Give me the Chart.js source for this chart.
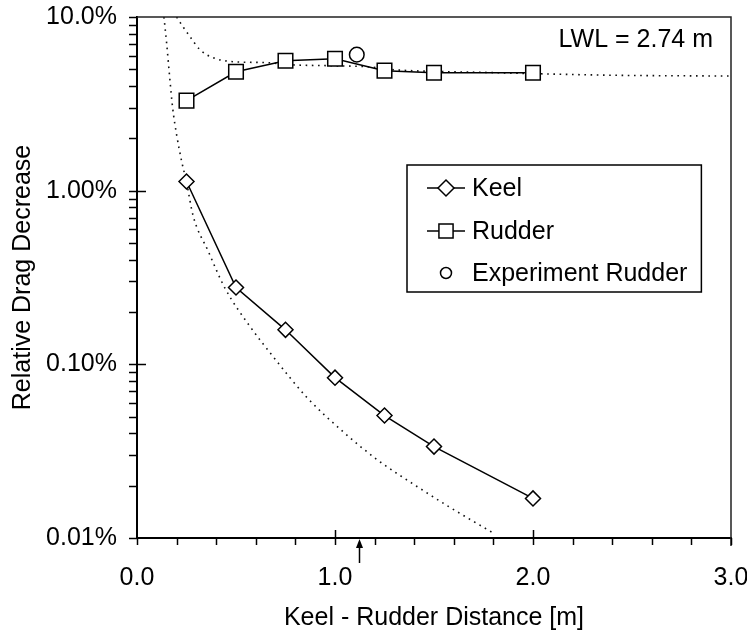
<!DOCTYPE html>
<html>
<head>
<meta charset="utf-8">
<script src="https://cdn.jsdelivr.net/npm/chart.js@4.4.1/dist/chart.umd.min.js"></script>
<style>
  html, body { margin: 0; padding: 0; background: #fff; }
  canvas { display: block; }
</style>
</head>
<body>
<canvas id="chart" width="747" height="634"></canvas>
<script>
// Measured points (keel - rudder distance in m, drag decrease in %)
const distances = [0.25, 0.5, 0.75, 1.0, 1.25, 1.5, 2.0];
const keelValues = [1.13, 0.277, 0.158, 0.0838, 0.0507, 0.0336, 0.0169];
const rudderValues = [3.30, 4.84, 5.60, 5.75, 4.91, 4.78, 4.78];

const experimentX = [1.11];
const experimentY = [6.07];

// Dotted reference curves
const keelCurveX = [0.136, 0.150, 0.165, 0.180, 0.200, 0.227, 0.250, 0.283, 0.359, 0.444, 0.571, 0.687, 0.859, 1.04, 1.212, 1.414, 1.581, 1.798];
const keelCurveY = [10, 7.0, 4.5, 3.0, 2.1, 1.45, 1.12, 0.72, 0.45, 0.275, 0.165, 0.111, 0.0643, 0.041, 0.0283, 0.0198, 0.0150, 0.0107];
const rudderCurveX = [0.20, 0.235, 0.268, 0.318, 0.384, 0.485, 0.657, 0.773, 0.99, 1.16, 1.30, 1.50, 1.75, 2.0, 2.4, 3.0];
const rudderCurveY = [10, 8.7, 7.7, 6.48, 5.83, 5.53, 5.46, 5.31, 5.24, 5.17, 4.97, 4.86, 4.80, 4.72, 4.62, 4.57];

// Axis ticks
const xTicks = [0, 1, 2, 3];
const xTickLabels = ['0.0', '1.0', '2.0', '3.0'];
const yTicks = [0.01, 0.1, 1, 10];
const yTickLabels = ['0.01%', '0.10%', '1.00%', '10.0%'];

const markerX = 1.12;           // arrow under the x axis
const noteText = 'LWL = 2.74 m';

const FONT = "'Liberation Sans', Arial, Helvetica, sans-serif";

const toPoints = (xs, ys) => xs.map((x, i) => ({ x, y: ys[i] }));

// Draws frame, minor ticks, arrow, note and the boxed legend
const decorations = {
  id: 'decorations',
  afterDraw(chart) {
    const { ctx, chartArea: a, scales: { x, y } } = chart;
    ctx.save();

    // top and right frame
    ctx.strokeStyle = '#222';
    ctx.lineWidth = 1.5;
    ctx.beginPath();
    ctx.moveTo(a.left, a.top);
    ctx.lineTo(a.right, a.top);
    ctx.lineTo(a.right, a.bottom + 8);
    ctx.stroke();

    // x ticks every 0.2, major ones also reach into the plot
    ctx.strokeStyle = '#000';
    ctx.lineWidth = 1.5;
    for (let k = 0; k <= 15; k++) {
      const v = k * 0.2;
      const px = Math.round(x.getPixelForValue(v)) + 0.5;
      const major = k > 0 && k < 15 && k % 5 === 0;
      ctx.beginPath();
      ctx.moveTo(px, major ? a.bottom - 8 : a.bottom);
      ctx.lineTo(px, a.bottom + 7);
      ctx.stroke();
    }

    // y log ticks
    for (let e = -2; e <= 1; e++) {
      for (let m = 1; m <= 9; m++) {
        const v = m * Math.pow(10, e);
        if (v < 0.0099 || v > 10.01) continue;
        const py = Math.round(y.getPixelForValue(v)) + 0.5;
        const inner = m === 1 && v > 0.011 && v < 9.9;
        ctx.beginPath();
        ctx.moveTo(a.left - 8, py);
        ctx.lineTo(inner ? a.left + 9 : a.left, py);
        ctx.stroke();
      }
    }

    // arrow below the axis
    const ax = Math.round(x.getPixelForValue(markerX)) + 0.5;
    ctx.beginPath();
    ctx.moveTo(ax, a.bottom + 25);
    ctx.lineTo(ax, a.bottom + 8);
    ctx.stroke();
    ctx.fillStyle = '#000';
    ctx.beginPath();
    ctx.moveTo(ax, a.bottom + 1);
    ctx.lineTo(ax - 3.5, a.bottom + 10);
    ctx.lineTo(ax + 3.5, a.bottom + 10);
    ctx.closePath();
    ctx.fill();

    // note
    ctx.font = `25px ${FONT}`;
    ctx.textAlign = 'right';
    ctx.textBaseline = 'alphabetic';
    ctx.fillText(noteText, a.right - 18, a.top + 30);

    // legend
    const ds = chart.data.datasets;
    const rows = [0, 1, 2];
    const boxLeft = 407, boxTop = 165, boxBottom = 292;
    const textX = 472, lineL = 427, lineR = 465;
    const rowY = [188, 231, 273];
    ctx.textAlign = 'left';
    ctx.textBaseline = 'middle';
    let maxW = 0;
    rows.forEach(i => { maxW = Math.max(maxW, ctx.measureText(ds[i].label).width); });
    const boxRight = textX + maxW + 14;
    ctx.fillStyle = '#fff';
    ctx.fillRect(boxLeft, boxTop, boxRight - boxLeft, boxBottom - boxTop);
    ctx.strokeStyle = '#000';
    ctx.lineWidth = 1.5;
    ctx.strokeRect(boxLeft, boxTop, boxRight - boxLeft, boxBottom - boxTop);

    const legendRadius = [8, 10, 5.5];
    rows.forEach((i, r) => {
      const d = ds[i];
      const cy = rowY[r];
      const cx = (lineL + lineR) / 2;
      if (d.showLine !== false) {
        ctx.strokeStyle = '#000';
        ctx.lineWidth = 1.5;
        ctx.beginPath();
        ctx.moveTo(lineL, cy);
        ctx.lineTo(lineR, cy);
        ctx.stroke();
      }
      ctx.fillStyle = '#fff';
      ctx.strokeStyle = '#000';
      ctx.lineWidth = 1.5;
      Chart.helpers.drawPoint(ctx, { pointStyle: d.pointStyle, radius: legendRadius[r], borderWidth: 1.5, rotation: 0 }, cx, cy);
      ctx.fillStyle = '#000';
      ctx.fillText(d.label, textX, cy + 1);
    });

    ctx.restore();
  }
};

new Chart(document.getElementById('chart'), {
  type: 'scatter',
  data: {
    datasets: [
      {
        label: 'Keel',
        data: toPoints(distances, keelValues),
        showLine: true,
        borderColor: '#000',
        borderWidth: 1.5,
        pointStyle: 'rectRot',
        pointRadius: 7.5,
        pointBackgroundColor: '#fff',
        pointBorderColor: '#000',
        pointBorderWidth: 1.5,
        order: 1
      },
      {
        label: 'Rudder',
        data: toPoints(distances, rudderValues),
        showLine: true,
        borderColor: '#000',
        borderWidth: 1.5,
        pointStyle: 'rect',
        pointRadius: 10.3,
        pointBackgroundColor: '#fff',
        pointBorderColor: '#000',
        pointBorderWidth: 1.5,
        order: 1
      },
      {
        label: 'Experiment Rudder',
        data: toPoints(experimentX, experimentY),
        showLine: false,
        pointStyle: 'circle',
        pointRadius: 7.3,
        pointBackgroundColor: '#fff',
        pointBorderColor: '#000',
        pointBorderWidth: 1.5,
        order: 1
      },
      {
        label: 'Keel theory',
        data: toPoints(keelCurveX, keelCurveY),
        showLine: true,
        borderColor: '#111',
        borderWidth: 1.6,
        borderDash: [1.6, 4.6],
        cubicInterpolationMode: 'monotone',
        pointRadius: 0,
        order: 2
      },
      {
        label: 'Rudder theory',
        data: toPoints(rudderCurveX, rudderCurveY),
        showLine: true,
        borderColor: '#111',
        borderWidth: 1.6,
        borderDash: [1.6, 4.6],
        cubicInterpolationMode: 'monotone',
        pointRadius: 0,
        order: 2
      }
    ]
  },
  options: {
    responsive: false,
    animation: false,
    events: [],
    layout: { padding: { top: 17, right: 16, left: 0, bottom: 0 } },
    plugins: {
      legend: { display: false },
      tooltip: { enabled: false }
    },
    scales: {
      x: {
        type: 'linear',
        min: 0,
        max: 3,
        afterBuildTicks: s => { s.ticks = xTicks.map(v => ({ value: v })); },
        afterFit: s => { s.height = 96; s.paddingLeft = 0; s.paddingRight = 0; },
        grid: { display: false, drawTicks: false },
        border: { display: true, color: '#000', width: 2 },
        ticks: {
          color: '#000',
          font: { family: FONT, size: 25 },
          padding: 25,
          maxRotation: 0,
          autoSkip: false,
          callback: (v, i) => xTickLabels[i]
        },
        title: {
          display: true,
          text: 'Keel - Rudder Distance [m]',
          color: '#000',
          font: { family: FONT, size: 25 },
          padding: { top: 0, bottom: 1 }
        }
      },
      y: {
        type: 'logarithmic',
        min: 0.01,
        max: 10,
        afterBuildTicks: s => { s.ticks = yTicks.map(v => ({ value: v })); },
        afterFit: s => { s.width = 137; s.paddingTop = 0; s.paddingBottom = 0; },
        grid: { display: false, drawTicks: false },
        border: { display: true, color: '#000', width: 2 },
        ticks: {
          color: '#000',
          font: { family: FONT, size: 25 },
          padding: 20,
          autoSkip: false,
          callback: (v, i) => yTickLabels[i]
        },
        title: {
          display: true,
          text: 'Relative Drag Decrease',
          color: '#000',
          font: { family: FONT, size: 25 },
          padding: { top: 8, bottom: 0 }
        }
      }
    }
  },
  plugins: [decorations]
});
</script>
</body>
</html>
